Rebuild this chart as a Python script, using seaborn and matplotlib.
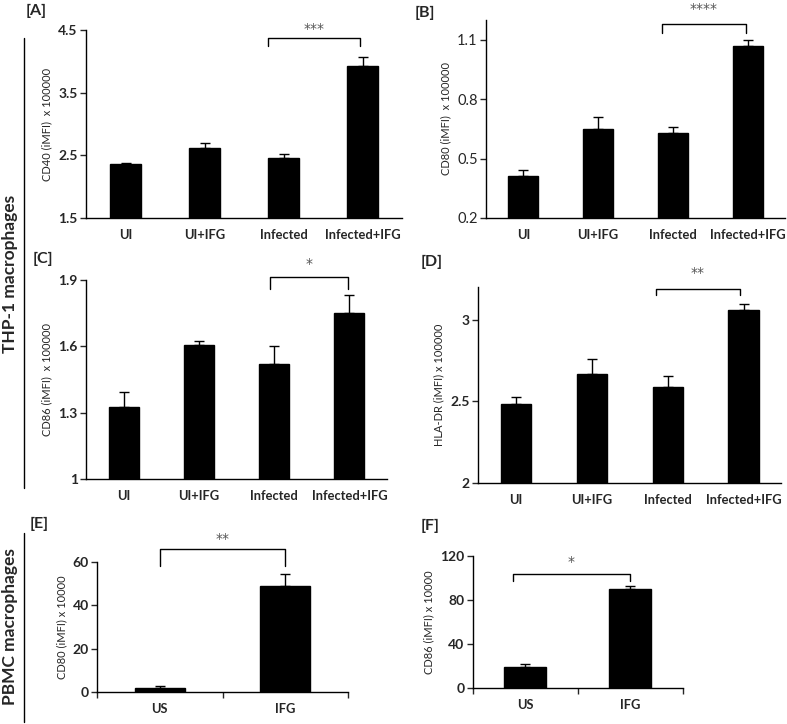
import matplotlib
matplotlib.use('Agg')
import numpy as np
import pandas as pd
import matplotlib.pyplot as plt
import seaborn as sns

# values
thp_groups = ['UI', 'UI+IFG', 'Infected', 'Infected+IFG']
cd40_mean = [2.36, 2.62, 2.45, 3.93]
cd40_err = [0.01, 0.07, 0.07, 0.14]
cd80_mean = [0.41, 0.65, 0.63, 1.07]
cd80_err = [0.03, 0.06, 0.03, 0.03]
cd86_mean = [1.325, 1.605, 1.52, 1.75]
cd86_err = [0.07, 0.02, 0.08, 0.08]
hladr_mean = [2.485, 2.67, 2.59, 3.06]
hladr_err = [0.04, 0.09, 0.065, 0.035]

pbmc_groups = ['US', 'IFG']
pbmc_cd80_mean = [1.8, 48.6]
pbmc_cd80_err = [1.1, 5.6]
pbmc_cd86_mean = [19.6, 90.0]
pbmc_cd86_err = [2.8, 3.0]

sns.set_theme(style='white')
plt.rcParams['font.family'] = ['Lato', 'DejaVu Sans']
plt.rcParams['axes.linewidth'] = 1.0
plt.rcParams['axes.edgecolor'] = 'black'

fig = plt.figure(figsize=(7.87, 7.24), dpi=100)


def bar_panel(rect, groups, means, errs, ylim, yticks, yticklabels, ylabel,
              width=0.4, tick_bold=True, xticks_between=False):
    ax = fig.add_axes(rect)
    df = pd.DataFrame({'group': groups, 'value': means})
    sns.barplot(data=df, x='group', y='value', color='black', width=width,
                errorbar=None, saturation=1, edgecolor='black', ax=ax)
    ax.errorbar(np.arange(len(groups)), means, yerr=[np.zeros(len(errs)), errs],
                fmt='none', ecolor='black', elinewidth=1.0, capsize=3.5, capthick=1.0)
    ax.set_xlim(-0.5, len(groups) - 0.5)
    ax.set_ylim(*ylim)
    ax.set_yticks(yticks)
    weight = 'bold' if tick_bold else 'normal'
    ax.set_yticklabels(yticklabels, fontsize=10 if tick_bold else 10.5, fontweight=weight)
    ax.set_xticks(np.arange(len(groups)))
    ax.set_xticklabels(groups, fontsize=9.3, fontweight='bold')
    ax.tick_params(axis='x', length=0, pad=8)
    ax.tick_params(axis='y', direction='out', length=4, width=1, left=True, pad=2)
    if xticks_between:
        ax.set_xticks(np.arange(len(groups) + 1) - 0.5, minor=True)
        ax.tick_params(axis='x', which='minor', direction='out', length=4, width=1, bottom=True)
    ax.set_xlabel('')
    ax.set_ylabel(ylabel, fontsize=8, labelpad=4)
    sns.despine(ax=ax)
    return ax


def bracket(ax, x0, x1, y, tip, stars, ystar):
    ax.plot([x0, x0, x1, x1], [tip, y, y, tip], color='black', lw=1.0, clip_on=False)
    ax.text((x0 + x1) / 2, ystar, stars, ha='center', va='center', fontsize=10,
            family='DejaVu Sans', color='#555555', clip_on=False)


axA = bar_panel([0.1093, 0.6989, 0.4015, 0.2597], thp_groups, cd40_mean, cd40_err,
                (1.5, 4.5), [1.5, 2.5, 3.5, 4.5], ['1.5', '2.5', '3.5', '4.5'],
                'CD40 (iMFI)  x 100000')
bracket(axA, 1.8, 2.97, 4.37, 4.24, '***', 4.52)

axB = bar_panel([0.6175, 0.6989, 0.3800, 0.2735], thp_groups, cd80_mean, cd80_err,
                (0.2, 1.2), [0.2, 0.5, 0.8, 1.1], ['0.2', '0.5', '0.8', '1.1'],
                'CD80 (iMFI)  x 100000', tick_bold=False)
bracket(axB, 1.85, 2.98, 1.18, 1.135, '****', 1.255)

axC = bar_panel([0.1093, 0.3384, 0.3825, 0.2749], thp_groups, cd86_mean, cd86_err,
                (1.0, 1.9), [1.0, 1.3, 1.6, 1.9], ['1', '1.3', '1.6', '1.9'],
                'CD86 (iMFI)  x 100000')
bracket(axC, 1.95, 2.98, 1.915, 1.86, '*', 1.97)

axD = bar_panel([0.6074, 0.3329, 0.3856, 0.2703], thp_groups, hladr_mean, hladr_err,
                (2.0, 3.2), [2.0, 2.5, 3.0], ['2', '2.5', '3'],
                'HLA-DR (iMFI) x 100000')
bracket(axD, 1.85, 2.95, 3.19, 3.15, '**', 3.29)

axE = bar_panel([0.1233, 0.0438, 0.3189, 0.1804], pbmc_groups, pbmc_cd80_mean, pbmc_cd80_err,
                (0, 60), [0, 20, 40, 60], ['0', '20', '40', '60'],
                'CD80 (iMFI) x 10000', xticks_between=True)
bracket(axE, 0.0, 1.0, 65.7, 58, '**', 70.5)

axF = bar_panel([0.6006, 0.0493, 0.2668, 0.1827], pbmc_groups, pbmc_cd86_mean, pbmc_cd86_err,
                (0, 120), [0, 40, 80, 120], ['0', '40', '80', '120'],
                'CD86 (iMFI) x 10000', xticks_between=True)
bracket(axF, -0.12, 1.0, 104, 97, '*', 115)

# panel letters
for label, (px, py) in {'[A]': (0.032, 0.985), '[B]': (0.527, 0.982),
                        '[C]': (0.042, 0.643), '[D]': (0.534, 0.638),
                        '[E]': (0.038, 0.277), '[F]': (0.534, 0.274)}.items():
    fig.text(px, py, label, fontsize=11.5, fontweight='bold', va='center')

# row group labels with vertical rules
fig.text(0.013, 1 - 274 / 724, 'THP-1 macrophages', rotation=90, ha='center', va='center',
         fontsize=12.5, fontweight='bold')
fig.add_artist(plt.Line2D([24 / 787, 24 / 787], [1 - 38 / 724, 1 - 488 / 724],
                          color='black', lw=1.0))
fig.text(0.013, 1 - 627 / 724, 'PBMC macrophages', rotation=90, ha='center', va='center',
         fontsize=12.5, fontweight='bold')
fig.add_artist(plt.Line2D([24 / 787, 24 / 787], [1 - 533 / 724, 1 - 722 / 724],
                          color='black', lw=1.0))

fig.savefig('out.png', dpi=100)
